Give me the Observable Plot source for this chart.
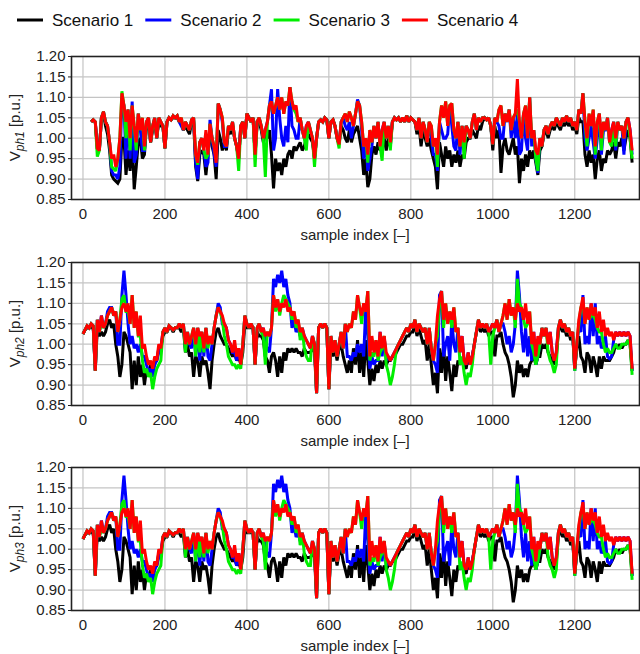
<!DOCTYPE html>
<html>
<head>
<meta charset="utf-8">
<script src="https://cdn.jsdelivr.net/npm/d3@7"></script>
<script src="https://cdn.jsdelivr.net/npm/@observablehq/plot@0.6"></script>
<style>
  body { margin: 0; background: #fff; }
  #chart { position: relative; width: 640px; height: 654px; font-family: "Liberation Sans", Arial, sans-serif; }
  #chart svg { position: absolute; left: 0; }
</style>
</head>
<body>
<div id="chart"></div>
<script>
// Per-phase voltage profiles for four scenarios, one value every 5 samples (rows of 100 samples).
const sampleStep = 5;

const scenarioNames = ["Scenario 1", "Scenario 2", "Scenario 3", "Scenario 4"];
const scenarioColors = ["#000000", "#0000ff", "#00ee00", "#ff0000"];

const xTicks = [0, 200, 400, 600, 800, 1000, 1200];
const yTicks = [0.85, 0.90, 0.95, 1.00, 1.05, 1.10, 1.15, 1.20];

// Phase 1
const ph1_s1 = [
  null, null, null, null, 1.04, 1.045, 1.04, 0.975, 0.97, 1.05, 1.06, 1.03, 1.01, 0.97, 0.91, 0.90, 0.895, 0.89, 0.90, 1.0,
  1.0, 0.91, 0.97, 0.92, 1.0, 0.875, 0.93, 0.99, 1.0, 0.95, 0.96, 1.03, 1.04, 0.99, 1.02, 1.04, 1.0, 1.04, 1.03, 1.03,
  0.975, 1.04, 1.05, 1.045, 1.05, 1.05, 1.05, 1.04, 1.04, 1.02, 1.03, 1.02, 1.01, 1.04, 1.04, 0.93, 0.895, 0.96, 0.97, 0.96,
  0.91, 0.96, 1.03, 0.98, 0.96, 0.90, 1.02, 1.0, 0.97, 0.99, 0.97, 1.02, 1.01, 1.03, 1.0, 0.98, 0.95, 1.03, 1.04, 1.0,
  1.06, 1.05, 1.04, 1.05, 0.96, 1.04, 1.04, 1.02, 0.99, 1.01, 1.0, 1.02, 0.96, 0.877, 0.95, 0.92, 0.94, 0.91, 0.95, 0.93,
  0.96, 0.97, 0.95, 0.98, 0.97, 0.98, 0.99, 0.97, 0.98, 1.0, 1.01, 1.0, 0.99, 0.95, 1.0, 1.04, 1.045, 1.04, 1.05, 1.045,
  1.0, 1.04, 1.045, 1.03, 1.0, 0.985, 1.03, 1.02, 1.0, 0.99, 1.02, 0.99, 1.01, 1.02, 1.03, 1.0, 0.97, 0.91, 0.95, 0.88,
  0.90, 0.96, 0.98, 0.96, 0.99, 0.97, 0.98, 1.0, 0.97, 1.0, 0.98, 1.04, 1.05, 1.045, 1.05, 1.04, 1.05, 1.04, 1.055, 1.04,
  1.05, 1.045, 1.04, 1.01, 1.03, 0.98, 1.02, 1.0, 0.98, 1.0, 0.97, 0.95, 0.93, 0.875, 0.99, 0.96, 0.93, 0.98, 0.95, 0.97,
  0.93, 0.96, 0.94, 0.97, 0.93, 0.96, 0.95, 0.99, 1.0, 1.0, 1.02, 1.01, 1.0, 1.03, 1.02, 1.04, 1.05, 1.045, 1.05, 1.03,
  0.97, 1.03, 1.0, 1.02, 0.915, 0.98, 1.0, 0.97, 0.96, 0.98, 1.0, 0.96, 0.98, 0.89, 0.95, 0.92, 0.96, 0.93, 0.97, 0.95,
  0.97, 0.94, 0.91, 0.97, 0.98, 1.01, 1.02, 1.0, 1.02, 1.03, 1.02, 1.04, 1.03, 1.02, 1.04, 1.03, 1.045, 1.03, 1.04, 1.02,
  1.03, 1.01, 1.05, 1.04, 1.04, 0.96, 0.93, 0.97, 0.94, 0.96, 0.90, 0.95, 0.97, 0.92, 0.95, 0.94, 0.97, 0.96, 0.97, 0.99,
  0.95, 0.99, 0.98, 1.0, 0.97, 1.0, 1.02, 1.0, 0.94];
const ph1_s2 = [
  null, null, null, null, 1.04, 1.045, 1.04, 0.975, 0.97, 1.05, 1.065, 1.04, 1.03, 0.99, 0.92, 0.91, 0.91, 0.90, 0.93, 1.10,
  1.08, 0.95, 1.07, 0.95, 1.09, 0.94, 0.96, 1.06, 1.02, 0.97, 0.97, 1.04, 1.05, 0.99, 1.03, 1.05, 1.0, 1.05, 1.04, 1.03,
  0.975, 1.04, 1.05, 1.045, 1.055, 1.05, 1.055, 1.04, 1.03, 1.02, 1.04, 1.03, 1.02, 1.045, 1.05, 0.94, 0.90, 0.99, 1.0, 0.97,
  0.93, 0.94, 1.045, 1.0, 0.96, 0.93, 1.085, 1.07, 1.04, 0.98, 0.98, 1.03, 1.02, 1.04, 1.0, 0.98, 0.95, 1.03, 1.04, 1.0,
  1.06, 1.05, 1.04, 1.05, 0.96, 1.04, 1.05, 1.03, 1.0, 1.02, 1.04, 1.08, 1.12, 0.97, 1.0, 1.12, 1.05, 1.0, 0.98, 1.03,
  0.99, 1.125, 1.03, 1.02, 1.0, 1.0, 1.05, 1.02, 1.0, 1.03, 1.04, 1.02, 1.0, 0.95, 1.0, 1.04, 1.045, 1.04, 1.05, 1.045,
  1.0, 1.04, 1.045, 1.03, 1.0, 0.985, 1.04, 1.05, 1.03, 1.02, 1.04, 1.0, 1.03, 1.06, 1.095, 1.08, 1.02, 0.95, 1.0, 0.92,
  0.95, 0.98, 1.03, 1.0, 1.04, 0.98, 1.02, 1.04, 1.0, 1.03, 0.99, 1.04, 1.05, 1.045, 1.05, 1.04, 1.05, 1.04, 1.055, 1.04,
  1.05, 1.045, 1.04, 1.02, 1.05, 1.0, 1.04, 1.02, 0.99, 1.04, 1.0, 0.96, 0.96, 0.92, 1.04, 1.02, 1.0, 1.0, 1.01, 1.08,
  1.03, 0.98, 0.97, 1.04, 0.96, 1.03, 0.99, 1.03, 1.02, 1.0, 1.04, 1.06, 1.02, 1.05, 1.04, 1.05, 1.05, 1.045, 1.05, 1.03,
  0.985, 1.05, 1.04, 1.03, 1.0, 1.0, 1.06, 1.04, 1.07, 1.0, 1.05, 1.0, 1.06, 0.96, 0.97, 1.06, 1.0, 0.97, 1.1, 0.98,
  1.02, 0.95, 0.915, 1.0, 0.98, 1.02, 1.03, 1.01, 1.03, 1.04, 1.03, 1.05, 1.04, 1.03, 1.05, 1.04, 1.055, 1.04, 1.05, 1.03,
  1.04, 1.02, 1.07, 1.06, 1.11, 1.0, 0.97, 1.0, 1.03, 0.99, 0.95, 1.0, 1.06, 0.96, 1.02, 1.02, 1.05, 0.99, 1.02, 1.04,
  0.97, 1.04, 1.02, 1.03, 0.96, 1.04, 1.05, 1.02, 0.96];
const ph1_s3 = [
  null, null, null, null, 1.04, 1.045, 1.04, 0.955, 0.97, 1.05, 1.065, 1.04, 1.03, 0.99, 0.93, 0.925, 0.92, 0.95, 1.0, 1.115,
  1.08, 1.0, 1.07, 0.97, 1.08, 1.03, 0.97, 1.06, 1.02, 1.05, 0.97, 1.04, 1.05, 0.99, 1.03, 1.05, 1.0, 1.05, 1.04, 1.03,
  0.975, 1.04, 1.05, 1.045, 1.055, 1.05, 1.055, 1.04, 1.05, 1.02, 1.04, 1.03, 1.02, 1.045, 1.05, 0.96, 0.935, 0.99, 1.0, 0.97,
  0.95, 0.96, 1.035, 1.0, 0.98, 0.95, 1.085, 1.07, 1.05, 0.99, 0.98, 1.03, 1.02, 1.04, 1.0, 0.98, 0.92, 1.03, 1.04, 1.0,
  1.06, 1.05, 1.04, 1.05, 0.93, 1.04, 1.05, 1.03, 1.0, 0.905, 1.04, 1.08, 1.09, 1.06, 1.08, 1.10, 1.07, 1.10, 1.06, 1.09,
  1.08, 1.125, 1.09, 1.07, 1.06, 1.04, 1.05, 1.02, 1.0, 0.97, 1.04, 1.02, 1.0, 0.93, 1.0, 1.04, 1.045, 1.04, 1.05, 1.045,
  1.0, 1.04, 1.045, 1.03, 1.0, 0.975, 1.04, 1.05, 1.06, 1.04, 1.065, 1.05, 1.03, 1.06, 1.09, 1.08, 1.04, 0.98, 1.0, 0.94,
  1.02, 0.99, 1.03, 1.0, 1.04, 0.98, 0.945, 1.04, 1.0, 1.03, 0.97, 1.04, 1.05, 1.045, 1.05, 1.04, 1.05, 1.04, 1.055, 1.04,
  1.05, 1.045, 1.04, 1.02, 1.05, 1.0, 1.04, 1.02, 0.99, 1.04, 1.03, 0.98, 1.0, 0.93, 1.04, 1.08, 1.05, 1.09, 1.03, 1.08,
  1.085, 1.02, 1.0, 1.04, 0.98, 1.03, 0.95, 1.03, 1.02, 1.0, 1.04, 1.06, 1.02, 1.05, 1.04, 1.05, 1.05, 1.045, 1.05, 1.03,
  0.985, 1.05, 1.04, 1.07, 1.08, 1.03, 1.06, 1.04, 1.07, 1.02, 1.05, 1.06, 1.07, 1.04, 1.0, 1.06, 1.08, 1.0, 1.1, 1.0,
  1.02, 0.95, 0.92, 1.0, 0.98, 1.02, 1.03, 1.01, 1.03, 1.04, 1.03, 1.05, 1.04, 1.03, 1.05, 1.04, 1.055, 1.04, 1.05, 1.03,
  1.04, 1.02, 1.07, 1.06, 1.11, 1.04, 0.98, 1.06, 1.03, 1.07, 0.96, 1.04, 1.06, 0.97, 1.04, 1.02, 1.05, 0.99, 0.98, 1.04,
  0.98, 1.04, 1.02, 1.03, 1.0, 1.04, 1.05, 1.0, 0.95];
const ph1_s4 = [
  null, null, null, null, 1.04, 1.045, 1.04, 0.975, 0.97, 1.05, 1.065, 1.04, 1.03, 0.99, 0.95, 0.96, 0.93, 0.95, 1.0, 1.11,
  1.08, 1.04, 1.07, 1.0, 1.08, 1.03, 0.99, 1.06, 1.02, 1.05, 0.98, 1.04, 1.05, 0.99, 1.03, 1.05, 1.0, 1.05, 1.04, 1.03,
  0.975, 1.04, 1.05, 1.045, 1.055, 1.05, 1.055, 1.04, 1.05, 1.02, 1.04, 1.03, 1.02, 1.045, 1.05, 0.96, 0.94, 0.99, 1.0, 0.97,
  1.02, 0.96, 1.035, 1.0, 0.98, 0.94, 1.085, 1.07, 1.05, 0.99, 0.98, 1.03, 1.02, 1.04, 1.0, 0.98, 0.95, 1.03, 1.04, 1.0,
  1.06, 1.05, 1.04, 1.05, 0.96, 1.04, 1.05, 1.03, 1.0, 1.02, 1.04, 1.08, 1.09, 1.06, 1.08, 1.10, 1.07, 1.10, 1.06, 1.09,
  1.08, 1.125, 1.09, 1.07, 1.08, 1.04, 1.05, 1.02, 1.0, 1.03, 1.04, 1.02, 1.0, 0.95, 1.0, 1.04, 1.045, 1.04, 1.05, 1.045,
  1.0, 1.04, 1.045, 1.03, 1.0, 0.985, 1.04, 1.05, 1.06, 1.04, 1.065, 1.05, 1.03, 1.06, 1.09, 1.08, 1.04, 0.98, 1.0, 0.96,
  1.02, 0.99, 1.03, 1.0, 1.04, 0.98, 1.02, 1.04, 1.0, 1.03, 0.99, 1.04, 1.05, 1.045, 1.05, 1.04, 1.05, 1.04, 1.055, 1.04,
  1.05, 1.045, 1.04, 1.02, 1.05, 1.0, 1.04, 1.02, 0.99, 1.04, 1.03, 0.98, 1.0, 0.96, 1.04, 1.08, 1.05, 1.09, 1.03, 1.08,
  1.085, 1.02, 1.0, 1.04, 0.98, 1.03, 0.99, 1.03, 1.02, 1.0, 1.04, 1.06, 1.02, 1.05, 1.04, 1.05, 1.05, 1.045, 1.05, 1.03,
  0.985, 1.05, 1.04, 1.07, 1.08, 1.03, 1.06, 1.04, 1.07, 1.02, 1.05, 1.06, 1.145, 1.04, 1.0, 1.06, 1.08, 1.0, 1.1, 1.0,
  1.02, 0.97, 0.96, 1.0, 0.98, 1.02, 1.03, 1.01, 1.03, 1.04, 1.03, 1.05, 1.04, 1.03, 1.05, 1.04, 1.055, 1.04, 1.05, 1.03,
  1.04, 1.02, 1.07, 1.06, 1.11, 1.04, 1.0, 1.06, 1.03, 1.07, 0.98, 1.04, 1.06, 1.0, 1.04, 1.02, 1.05, 0.99, 1.02, 1.04,
  1.0, 1.04, 1.02, 1.03, 1.0, 1.04, 1.05, 1.02, 0.97];

// Phases 2 and 3 carry the same profile
const ph23_s1 = [
  1.025, 1.035, 1.04, 1.04, 1.04, 1.04, 0.935, 1.04, 1.02, 1.03, 1.02, 1.03, 1.05, 1.06, 1.04, 1.05, 1.0, 0.97, 0.92, 0.95,
  1.03, 1.02, 1.0, 0.98, 0.89, 0.96, 0.90, 0.97, 0.92, 0.95, 0.90, 0.94, 0.93, 0.95, 0.94, 0.96, 0.96, 0.99, 0.99, 1.02,
  1.03, 1.03, 1.04, 1.04, 1.03, 1.04, 1.04, 1.04, 1.03, 1.04, 0.98, 1.0, 0.97, 0.98, 0.92, 0.97, 0.96, 0.92, 0.97, 0.95,
  0.96, 0.93, 0.89, 0.96, 1.0, 1.03, 1.04, 1.02, 1.01, 1.0, 1.0, 0.99, 0.98, 0.97, 0.98, 0.96, 0.97, 0.95, 0.98, 1.05,
  1.04, 1.04, 1.04, 1.04, 0.95, 1.03, 1.02, 1.02, 1.01, 0.97, 0.96, 0.93, 0.97, 0.98, 0.96, 0.92, 0.97, 0.93, 0.98, 0.96,
  0.99, 0.98, 0.99, 0.98, 0.99, 0.98, 0.98, 0.97, 0.99, 0.98, 0.98, 0.98, 0.99, 0.98, 0.88, 1.04, 1.05, 1.04, 1.05, 1.04,
  0.89, 1.0, 0.97, 0.99, 0.96, 0.99, 1.0, 0.97, 0.95, 0.93, 0.96, 0.93, 0.99, 0.95, 1.01, 0.93, 0.98, 0.92, 1.01, 0.96,
  0.90, 0.94, 0.91, 0.95, 0.93, 0.96, 0.94, 0.96, 0.95, 0.96, 0.96, 0.97, 0.97, 0.98, 0.99, 1.0, 1.0, 1.01, 1.02, 1.02,
  1.03, 1.03, 1.05, 1.02, 1.04, 1.02, 1.0, 1.01, 0.96, 1.0, 0.95, 0.90, 0.93, 0.88, 0.99, 0.93, 1.0, 0.91, 0.97, 0.93,
  0.885, 0.95, 0.92, 0.96, 0.95, 0.96, 0.95, 0.94, 0.97, 0.95, 0.97, 1.0, 1.03, 1.05, 1.03, 1.04, 1.03, 1.04, 1.02, 1.03,
  1.03, 0.97, 1.02, 1.02, 1.03, 1.0, 0.98, 0.97, 0.95, 0.92, 0.87, 0.90, 0.96, 0.93, 0.95, 0.92, 0.94, 0.92, 0.95, 0.96,
  0.97, 0.95, 0.97, 0.97, 1.0, 0.99, 1.0, 0.98, 0.97, 0.96, 0.95, 0.97, 1.03, 1.05, 1.03, 1.04, 1.02, 1.03, 1.01, 1.02,
  0.94, 0.99, 1.02, 0.97, 0.96, 0.93, 0.98, 0.97, 0.93, 0.97, 0.95, 0.92, 0.97, 0.94, 0.97, 0.96, 0.96, 0.96, 0.97, 0.98,
  1.0, 0.99, 1.0, 0.99, 1.0, 1.0, 1.01, 1.0, 0.935];
const ph23_s2 = [
  1.025, 1.035, 1.045, 1.04, 1.05, 1.045, 0.935, 1.06, 1.03, 1.07, 1.04, 1.05, 1.08, 1.09, 1.09, 1.07, 1.08, 1.0, 1.0, 1.12,
  1.18, 1.12, 1.05, 1.0, 1.02, 0.99, 1.0, 0.98, 1.0, 0.97, 0.97, 0.95, 0.93, 0.94, 0.92, 0.95, 0.96, 0.98, 0.99, 1.03,
  1.04, 1.03, 1.045, 1.04, 1.035, 1.04, 1.04, 1.05, 1.04, 1.05, 0.99, 1.03, 1.0, 0.99, 1.04, 0.97, 1.04, 0.96, 1.03, 0.97,
  1.04, 0.97, 0.96, 1.0, 1.04, 1.07, 1.10, 1.09, 1.05, 1.05, 1.04, 1.01, 1.0, 0.98, 0.98, 0.96, 0.99, 0.95, 1.0, 1.07,
  1.05, 1.04, 1.05, 1.04, 0.95, 1.04, 1.05, 1.03, 1.04, 1.0, 0.99, 0.98, 1.04, 1.16, 1.14, 1.17, 1.15, 1.18, 1.14, 1.16,
  1.12, 1.10, 1.04, 1.06, 1.03, 1.04, 1.02, 1.04, 1.02, 1.01, 1.0, 0.99, 1.02, 1.0, 0.88, 1.04, 1.05, 1.04, 1.05, 1.04,
  0.89, 1.02, 0.98, 1.01, 0.97, 1.0, 1.03, 0.99, 1.05, 0.97, 0.97, 0.96, 0.98, 0.97, 1.0, 0.98, 1.0, 0.97, 1.09, 1.02,
  0.94, 0.97, 0.95, 0.96, 0.96, 1.03, 0.97, 1.02, 0.96, 0.97, 0.96, 0.97, 0.98, 0.99, 1.0, 1.01, 1.02, 1.03, 1.04, 1.03,
  1.05, 1.04, 1.06, 1.03, 1.05, 1.04, 1.03, 1.04, 1.0, 1.04, 0.99, 0.96, 0.95, 0.93, 1.12, 1.13, 0.97, 1.0, 1.02, 0.96,
  1.06, 1.0, 0.98, 1.04, 0.98, 1.02, 0.96, 0.95, 0.98, 0.95, 0.97, 1.0, 1.03, 1.06, 1.04, 1.05, 1.04, 1.05, 1.03, 1.04,
  1.05, 1.04, 1.06, 1.03, 1.05, 1.05, 1.03, 1.0, 1.02, 0.98, 1.0, 1.05, 1.18, 1.12, 1.03, 0.98, 1.04, 0.97, 1.02, 0.96,
  1.03, 0.95, 0.97, 1.0, 1.04, 1.02, 1.04, 1.0, 1.03, 0.98, 0.96, 0.98, 1.04, 1.06, 1.04, 1.05, 1.03, 1.04, 1.02, 1.03,
  0.935, 1.0, 1.04, 1.03, 1.12, 1.0, 1.02, 1.0, 1.10, 1.02, 1.10, 1.0, 1.02, 0.99, 1.0, 1.02, 0.97, 0.965, 0.97, 1.01,
  1.03, 1.02, 1.03, 1.02, 1.03, 1.02, 1.03, 1.02, 0.935];
const ph23_s3 = [
  1.025, 1.035, 1.045, 1.04, 1.05, 1.045, 0.935, 1.06, 1.03, 1.05, 1.04, 1.05, 1.07, 1.08, 1.09, 1.07, 1.08, 1.03, 1.06, 1.11,
  1.12, 1.08, 1.08, 1.05, 1.12, 1.04, 1.08, 1.02, 1.02, 0.96, 0.93, 0.94, 0.92, 0.93, 0.89, 0.92, 0.94, 0.95, 0.96, 1.03,
  1.04, 1.03, 1.045, 1.04, 1.035, 1.04, 1.04, 1.05, 1.04, 1.05, 0.98, 1.03, 1.0, 1.02, 1.04, 0.97, 1.04, 0.98, 1.03, 0.98,
  1.04, 0.99, 1.02, 1.0, 1.04, 1.07, 1.09, 1.08, 1.06, 1.02, 1.0, 0.97, 0.96, 0.95, 0.95, 0.94, 0.95, 0.94, 1.0, 1.07,
  1.05, 1.04, 1.05, 1.04, 0.95, 1.04, 1.05, 1.03, 1.02, 0.95, 1.03, 1.02, 1.04, 1.12, 1.08, 1.11, 1.07, 1.10, 1.12, 1.11,
  1.10, 1.09, 1.06, 1.08, 1.04, 1.06, 1.01, 1.04, 0.99, 0.97, 0.96, 0.96, 1.02, 1.0, 0.88, 1.04, 1.05, 1.04, 1.05, 1.04,
  0.89, 1.02, 0.98, 1.01, 0.97, 1.0, 1.03, 0.99, 1.05, 1.03, 1.05, 1.04, 1.08, 1.06, 1.12, 1.09, 1.05, 1.10, 1.08, 1.13,
  0.96, 0.98, 0.97, 1.01, 0.96, 0.98, 0.99, 1.02, 0.95, 0.93, 0.90, 0.92, 0.95, 0.99, 1.0, 1.01, 1.02, 1.03, 1.04, 1.03,
  1.05, 1.04, 1.06, 1.03, 1.05, 1.04, 1.03, 1.04, 1.0, 1.04, 0.99, 0.96, 1.0, 1.02, 1.10, 1.13, 1.04, 1.10, 1.05, 1.08,
  1.04, 1.09, 1.03, 1.04, 0.95, 0.97, 0.93, 0.90, 0.93, 0.92, 0.95, 1.0, 1.03, 1.06, 1.04, 1.05, 1.04, 1.05, 1.03, 0.95,
  1.02, 1.04, 1.06, 1.03, 1.05, 1.07, 1.10, 1.06, 1.11, 1.07, 1.09, 1.04, 1.16, 1.10, 1.09, 1.06, 1.04, 1.05, 1.08, 1.0,
  0.98, 0.95, 0.97, 1.0, 1.04, 1.02, 1.04, 0.98, 0.96, 0.95, 0.93, 0.95, 1.04, 1.06, 1.04, 1.05, 1.03, 1.04, 1.02, 1.03,
  0.935, 1.0, 1.05, 1.09, 1.10, 1.05, 1.09, 1.06, 1.07, 1.07, 1.06, 1.04, 1.03, 1.03, 1.0, 0.98, 0.99, 0.98, 0.98, 0.99,
  1.0, 0.99, 0.99, 1.0, 1.0, 1.0, 1.01, 1.0, 0.925];
const ph23_s4 = [
  1.025, 1.035, 1.045, 1.04, 1.05, 1.045, 0.935, 1.06, 1.03, 1.07, 1.04, 1.05, 1.07, 1.08, 1.09, 1.07, 1.08, 1.03, 1.06, 1.09,
  1.10, 1.08, 1.10, 1.05, 1.12, 1.04, 1.08, 1.02, 1.07, 0.99, 1.0, 0.97, 0.95, 0.96, 0.94, 0.97, 0.96, 1.0, 0.99, 1.03,
  1.04, 1.03, 1.045, 1.04, 1.035, 1.04, 1.04, 1.05, 1.04, 1.05, 1.0, 1.03, 1.0, 1.02, 1.04, 1.0, 1.04, 1.02, 1.03, 0.99,
  1.04, 1.0, 1.02, 1.0, 1.04, 1.07, 1.09, 1.08, 1.07, 1.05, 1.04, 1.01, 1.0, 0.98, 1.01, 0.97, 0.99, 0.95, 1.0, 1.07,
  1.05, 1.04, 1.05, 1.04, 0.95, 1.04, 1.05, 1.03, 1.04, 1.02, 1.03, 1.02, 1.04, 1.12, 1.09, 1.11, 1.08, 1.10, 1.09, 1.11,
  1.08, 1.09, 1.07, 1.08, 1.05, 1.06, 1.03, 1.04, 1.02, 1.01, 1.0, 0.99, 1.02, 1.0, 0.88, 1.04, 1.05, 1.04, 1.05, 1.04,
  0.89, 1.02, 0.98, 1.01, 0.97, 1.0, 1.03, 0.99, 1.05, 1.03, 1.05, 1.04, 1.08, 1.06, 1.12, 1.09, 1.07, 1.10, 1.08, 1.13,
  0.97, 1.02, 0.98, 1.01, 0.97, 1.03, 0.99, 1.02, 0.98, 0.97, 0.96, 0.97, 0.98, 0.99, 1.0, 1.01, 1.02, 1.03, 1.04, 1.03,
  1.05, 1.04, 1.06, 1.03, 1.05, 1.04, 1.03, 1.04, 1.0, 1.04, 0.99, 0.96, 1.0, 1.07, 1.11, 1.13, 1.06, 1.10, 1.05, 1.08,
  1.06, 1.09, 1.03, 1.04, 0.98, 1.02, 0.96, 0.95, 0.98, 0.95, 0.97, 1.0, 1.03, 1.06, 1.04, 1.05, 1.04, 1.05, 1.03, 1.04,
  1.05, 1.04, 1.06, 1.03, 1.05, 1.07, 1.10, 1.06, 1.11, 1.07, 1.09, 1.06, 1.10, 1.08, 1.09, 1.06, 1.10, 1.05, 1.08, 1.0,
  1.03, 0.97, 1.02, 1.0, 1.04, 1.02, 1.04, 1.0, 1.03, 0.98, 0.96, 0.98, 1.04, 1.06, 1.04, 1.05, 1.03, 1.04, 1.02, 1.03,
  0.94, 1.0, 1.06, 1.09, 1.115, 1.05, 1.09, 1.06, 1.10, 1.07, 1.09, 1.04, 1.08, 1.03, 1.06, 1.02, 1.04, 1.02, 1.03, 1.01,
  1.03, 1.02, 1.03, 1.02, 1.03, 1.02, 1.03, 1.02, 0.94];

const panels = [
  {phase: "ph1", top: 45, height: 206, series: [ph1_s1, ph1_s2, ph1_s3, ph1_s4]},
  {phase: "ph2", top: 251, height: 205, series: [ph23_s1, ph23_s2, ph23_s3, ph23_s4]},
  {phase: "ph3", top: 456, height: 198, series: [ph23_s1, ph23_s2, ph23_s3, ph23_s4]}
];

const fontFamily = '"Liberation Sans", Arial, sans-serif';
const chart = d3.select("#chart");

// Legend row
const legend = chart.append("svg")
  .attr("width", 640).attr("height", 45)
  .style("top", "0px");
scenarioNames.forEach((name, i) => {
  const x0 = 17 + i * 128.3;
  legend.append("line")
    .attr("x1", x0).attr("x2", x0 + 26).attr("y1", 20).attr("y2", 20)
    .attr("stroke", scenarioColors[i]).attr("stroke-width", 3);
  legend.append("text")
    .attr("x", x0 + 35).attr("y", 20).attr("dy", "0.36em")
    .attr("font-family", fontFamily).attr("font-size", 17)
    .attr("fill", "#111")
    .text(name);
});

const marginTop = 11, frameH = 143, marginLeft = 71, marginRight = 1;

for (const p of panels) {
  const lineMarks = p.series.map((values, i) =>
    Plot.line(values.map((v, k) => ({x: k * sampleStep, y: v})).filter(d => d.y != null), {
      x: "x", y: "y",
      stroke: scenarioColors[i], strokeWidth: 3,
      strokeLinejoin: "miter", strokeMiterlimit: 2, strokeLinecap: "butt"
    })
  );

  const svg = Plot.plot({
    width: 640,
    height: p.height,
    marginTop,
    marginBottom: p.height - marginTop - frameH,
    marginLeft,
    marginRight,
    style: {fontFamily, fontSize: "15px", color: "#222", background: "transparent"},
    x: {domain: [-28, 1358], ticks: xTicks, tickFormat: d3.format("d"), tickSize: 0, tickPadding: 9, label: null},
    y: {domain: [0.85, 1.20], ticks: yTicks, tickFormat: d3.format(".2f"), tickSize: 3, tickPadding: 3, label: null},
    marks: [
      Plot.ruleX(xTicks, {stroke: "#c4c4c4", strokeWidth: 1.2}),
      Plot.ruleY(yTicks, {stroke: "#c4c4c4", strokeWidth: 1.2}),
      ...lineMarks,
      Plot.frame({stroke: "#222", strokeWidth: 1.6})
    ]
  });

  const s = d3.select(svg).style("top", p.top + "px");

  // y-axis title with the phase as subscript
  const cy = marginTop + frameH / 2;
  const yt = s.append("text")
    .attr("transform", `translate(18,${cy}) rotate(-90)`)
    .attr("text-anchor", "middle")
    .attr("dy", "0.1em")
    .attr("font-family", fontFamily).attr("font-size", 15)
    .attr("fill", "#222");
  yt.append("tspan").text("V");
  yt.append("tspan").attr("dy", 4).attr("font-size", 12).attr("font-style", "italic").text(p.phase);
  yt.append("tspan").attr("dy", -4).text(" [p.u.]");

  // x-axis title
  s.append("text")
    .attr("x", marginLeft + (640 - marginLeft - marginRight) / 2)
    .attr("y", marginTop + frameH + 36)
    .attr("dy", "0.36em")
    .attr("text-anchor", "middle")
    .attr("font-family", fontFamily).attr("font-size", 15)
    .attr("fill", "#222")
    .text("sample index [\u2013]");

  chart.node().appendChild(svg);
}
</script>
</body>
</html>
